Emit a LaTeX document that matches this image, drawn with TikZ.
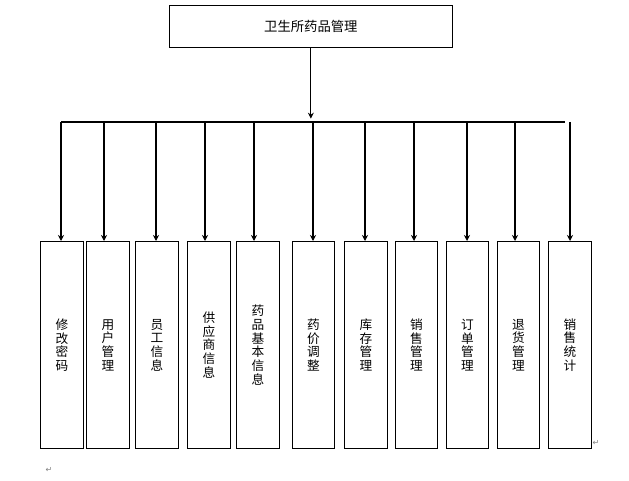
\documentclass[tikz,border=0pt]{standalone}
\usepackage{fontspec}
\newfontfamily\cjk{Noto Sans CJK SC}
\newfontfamily\sym{DejaVu Sans}
\usetikzlibrary{arrows.meta}
\begin{document}
\begin{tikzpicture}[x=0.75pt, y=-0.75pt, line width=0.8pt, line join=miter, >={Stealth[length=4.5pt,width=4.5pt,inset=1.5pt]},
	box/.style={draw, inner sep=0pt, anchor=north west, align=center, font=\cjk\fontsize{9.5}{10.3}\selectfont},
	retmark/.style={font=\sym\fontsize{6}{6}\selectfont, text=gray, inner sep=0pt}]
		\useasboundingbox (0,0) rectangle (629,481);
		% top box
		\node[box, minimum width=212pt, minimum height=31.5pt, font=\cjk\fontsize{10}{10}\selectfont] (top) at (169,5) {卫生所药品管理};
		\coordinate (busL) at (61,122);
		\coordinate (busR) at (565,122);
		\draw[->] (top.south) -- ([yshift=2.5pt]top.south |- busL);
		\draw (busL) -- (busR);
		% module boxes and drops
		\foreach \xa/\xb/\xd/\name/\txt in {
			40/83/61/mA/{修\\改\\密\\码},
			86/129/104/mB/{用\\户\\管\\理},
			135/178/156/mC/{员\\工\\信\\息},
			187/230/205/mD/{供\\应\\商\\信\\息},
			236/279/254/mE/{药\\品\\基\\本\\信\\息},
			292/334/313/mF/{药\\价\\调\\整},
			344/387/365/mG/{库\\存\\管\\理},
			395/437/414/mH/{销\\售\\管\\理},
			446/488/467/mI/{订\\单\\管\\理},
			497/539/515/mJ/{退\\货\\管\\理},
			548/591/570/mK/{销\\售\\统\\计}}
		{
			\node[box, minimum width={(\xb-\xa)*0.75pt}, minimum height=155.25pt] (\name) at (\xa,241) {\txt};
			\coordinate (d\name) at (\xd,122);
			\draw[->] (d\name) -- (d\name |- \name.north);
		}
		% paragraph marks
		\node[retmark] (ret1) at (596,443) {↵};
		\node[retmark] (ret2) at (49,470) {↵};
	\end{tikzpicture}
\end{document}
